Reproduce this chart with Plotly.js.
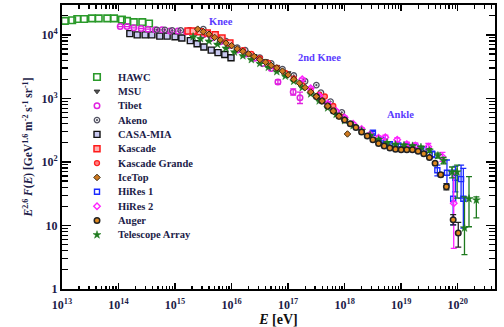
<!DOCTYPE html>
<html><head><meta charset="utf-8">
<script src="https://cdn.plot.ly/plotly-3.0.1.min.js"></script>
<style>html,body{margin:0;padding:0;background:#fff}#chart{width:504px;height:327px}</style>
</head><body><div id="chart"></div>
<script>
// Values: log10(E / eV) and log10(E^2.6 F(E) / GeV^1.6 m^-2 s^-1 sr^-1)
const seriesNames = ['HAWC','MSU','Tibet','Akeno','CASA-MIA','Kascade','Kascade Grande','IceTop','HiRes 1','HiRes 2','Auger','Telescope Array'];

const hawcLogE = [13.05,13.18,13.27,13.39,13.53,13.65,13.80,13.92,14.06,14.15,14.27,14.42,14.54];
const hawcLogF = [4.22,4.23,4.25,4.25,4.26,4.26,4.26,4.26,4.24,4.22,4.20,4.20,4.18];

const msuLogE = [15.6,15.8,16.0,16.2,16.4,16.6,16.8,17.0];
const msuLogF = [3.98,3.90,3.82,3.74,3.67,3.59,3.50,3.40];

const tibetLogE = [14.03,14.15,14.27,14.40,14.52,14.65,14.77,14.91,15.05,15.20,15.35,15.50,15.65,15.80,15.95,16.10,16.25,16.40,16.55,16.70,16.82,17.09,17.21];
const tibetLogF = [4.13,4.13,4.11,4.10,4.09,4.08,4.08,4.06,4.06,4.05,4.04,4.00,3.95,3.89,3.83,3.76,3.70,3.63,3.55,3.47,3.26,3.10,3.01];
const tibetErrHi = [0,0,0,0,0,0,0,0,0,0,0,0,0,0,0,0,0,0,0,0,0.03,0.05,0.09];
const tibetErrLo = [0,0,0,0,0,0,0,0,0,0,0,0,0,0,0,0,0,0,0,0,0.03,0.05,0.09];

const akenoLogE = [14.68,14.82,14.95,15.10,15.25,15.50,15.70,15.90,16.10,16.24,16.50,16.70,16.90,17.10,17.30,17.50,17.58,17.75,17.95];
const akenoLogF = [4.08,4.08,4.07,4.07,4.07,4.09,4.00,3.90,3.80,3.76,3.64,3.55,3.46,3.36,3.27,3.21,3.09,2.95,2.78];

const casaLogE = [14.20,14.33,14.47,14.59,14.73,14.86,15.00,15.12,15.27,15.39,15.51,15.64,15.76,15.88,15.99];
const casaLogF = [4.02,4.00,4.00,4.00,3.98,3.98,3.97,3.95,3.91,3.86,3.81,3.76,3.72,3.69,3.64];

const kascadeLogE = [15.23,15.32,15.44,15.57,15.71,15.83,15.97];
const kascadeLogF = [4.06,4.06,4.05,4.03,4.00,3.95,3.87];

const kgLogE = [16.20,16.35,16.50,16.65,16.80,16.95,17.10,17.25,17.40,17.55,17.65,17.80,17.92];
const kgLogF = [3.76,3.70,3.63,3.56,3.48,3.40,3.31,3.21,3.12,3.06,3.03,2.88,2.72];

const icetopLogE = [15.4,15.5,15.6,15.7,15.8,15.9,16.0,16.1,16.2,16.3,16.4,16.5,16.6,16.7,16.8,16.9,17.0,17.1,17.2,17.3,17.4,17.5,17.6,17.7,17.8,17.9,18.05];
const icetopLogF = [4.09,4.05,4.01,3.96,3.92,3.87,3.83,3.78,3.74,3.70,3.66,3.61,3.57,3.52,3.48,3.43,3.37,3.30,3.24,3.17,3.10,3.03,2.96,2.88,2.80,2.72,2.44];

const hires1LogE = [18.50,18.65,18.80,18.95,19.10,19.25,19.40,19.55,19.64,19.81,19.92,19.96,20.06,20.10];
const hires1LogF = [2.46,2.35,2.28,2.26,2.25,2.24,2.20,2.12,1.87,1.83,1.42,1.75,1.73,1.42];
const hires1ErrHi = [0.02,0.02,0.02,0.02,0.03,0.03,0.04,0.05,0.08,0.20,0.45,0.18,0.22,0.48];
const hires1ErrLo = [0.02,0.02,0.02,0.02,0.03,0.03,0.04,0.05,0.09,0.19,0.41,0.22,0.30,0.46];

const hires2LogE = [17.25,17.40,17.55,17.70,17.85,18.00,18.15,18.30,18.45,18.60,18.72,18.93,19.10,19.25,19.48,19.73,19.93];
const hires2LogF = [3.30,3.16,3.04,2.92,2.80,2.70,2.60,2.52,2.43,2.38,2.39,2.35,2.28,2.26,2.24,2.08,1.35];
const hires2ErrHi = [0.02,0.02,0.02,0.02,0.02,0.02,0.02,0.02,0.02,0.03,0.03,0.03,0.03,0.04,0.05,0.07,0.47];
const hires2ErrLo = [0.02,0.02,0.02,0.02,0.02,0.02,0.02,0.02,0.02,0.03,0.03,0.03,0.03,0.04,0.05,0.07,0.71];

const augerLogE = [17.5,17.6,17.7,17.8,17.9,18.0,18.1,18.2,18.3,18.4,18.5,18.6,18.7,18.8,18.9,19.0,19.1,19.2,19.3,19.4,19.5,19.6,19.7,19.8,19.92,20.01];
const augerLogF = [3.03,2.96,2.88,2.80,2.72,2.66,2.60,2.54,2.47,2.41,2.35,2.29,2.25,2.22,2.20,2.19,2.19,2.19,2.17,2.13,2.07,1.98,1.80,1.61,1.09,0.88];
const augerErrHi = [0,0,0,0,0,0,0,0,0,0,0,0,0,0,0,0,0,0,0,0,0.01,0.02,0.03,0.05,0.08,0.17];
const augerErrLo = [0,0,0,0,0,0,0,0,0,0,0,0,0,0,0,0,0,0,0,0,0.01,0.02,0.03,0.05,0.08,0.22];

const taLogE = [15.32,15.45,15.60,15.75,15.90,16.05,16.20,16.35,16.50,16.65,16.80,16.95,17.10,17.25,17.40,17.55,17.70,17.85,18.00,18.15,18.30,18.45,18.60,18.75,18.90,19.05,19.20,19.35,19.50,19.65,19.75,19.90,19.99,20.12,20.20,20.33];
const taLogF = [3.97,3.94,3.90,3.85,3.79,3.73,3.67,3.61,3.55,3.49,3.42,3.35,3.27,3.17,3.07,2.96,2.85,2.75,2.65,2.57,2.49,2.42,2.35,2.30,2.27,2.26,2.25,2.23,2.18,2.10,2.02,1.84,1.84,0.96,1.42,1.40];
const taErrHi = [0,0,0,0,0,0,0,0,0,0,0,0,0,0,0,0,0,0,0,0,0,0,0.02,0.02,0.02,0.02,0.02,0.02,0.03,0.04,0.05,0.08,0.11,0.49,0.35,0.05];
const taErrLo = [0,0,0,0,0,0,0,0,0,0,0,0,0,0,0,0,0,0,0,0,0,0,0.02,0.02,0.02,0.02,0.02,0.02,0.03,0.04,0.05,0.09,0.41,0.42,0.44,0.28];

const xTickVals = [1e13,1e14,1e15,1e16,1e17,1e18,1e19,1e20];
const xTickText = ['10<sup>13</sup>','10<sup>14</sup>','10<sup>15</sup>','10<sup>16</sup>','10<sup>17</sup>','10<sup>18</sup>','10<sup>19</sup>','10<sup>20</sup>'];
const yTickVals = [1,10,100,1000,10000];
const yTickText = ['1','10','10<sup>2</sup>','10<sup>3</sup>','10<sup>4</sup>'];

// ---------- styles ----------
const styles = {
  'HAWC': {symbol:'square-open', size:6.5, color:'#2a9a2a', line:{color:'#2a9a2a', width:1.6}},
  'MSU': {symbol:'triangle-down', size:5, color:'#555555', line:{color:'#333333', width:1}},
  'Tibet': {symbol:'circle-open', size:5.5, color:'#e020e0', line:{color:'#e020e0', width:1.5}},
  'Akeno': {symbol:'circle-open-dot', size:5.5, color:'#505060', line:{color:'#505060', width:1.3}},
  'CASA-MIA': {symbol:'square', size:6, color:'#c8c8f0', line:{color:'#111111', width:1.4}},
  'Kascade': {symbol:'square', size:6, color:'#ffb0b0', line:{color:'#ff1a1a', width:1.5}},
  'Kascade Grande': {symbol:'circle', size:5, color:'#ff8080', line:{color:'#ff2020', width:1.3}},
  'IceTop': {symbol:'diamond', size:5, color:'#d07a20', line:{color:'#3a2a10', width:1}},
  'HiRes 1': {symbol:'square-open', size:5, color:'#1a2aff', line:{color:'#1a2aff', width:1.4}},
  'HiRes 2': {symbol:'diamond-open', size:5, color:'#ff20ff', line:{color:'#ff20ff', width:1.4}},
  'Auger': {symbol:'circle', size:5.5, color:'#e08a20', line:{color:'#222222', width:1.5}},
  'Telescope Array': {symbol:'star', size:6, color:'#1e7a1e', line:{color:'#1e7a1e', width:0.5}}
};
const errColors = {'Tibet':'#e020e0','HiRes 1':'#1a2aff','HiRes 2':'#ff20ff','Auger':'#222222','Telescope Array':'#1e7a1e'};

const P = v => Math.pow(10, v);
function makeTrace(name, logE, logF, errHi, errLo) {
  const t = {
    type:'scatter', mode:'markers', name:name, showlegend:false,
    x: logE.map(P), y: logF.map(P),
    marker: styles[name], cliponaxis:true
  };
  if (errHi) {
    t.error_y = {
      type:'data', symmetric:false, visible:true,
      array: logF.map((v,i)=> P(v+errHi[i]) - P(v)),
      arrayminus: logF.map((v,i)=> P(v) - P(v-errLo[i])),
      color: errColors[name], thickness:1.3, width:3
    };
  }
  return t;
}

const traces = [
  makeTrace('MSU', msuLogE, msuLogF),
  makeTrace('HAWC', hawcLogE, hawcLogF),
  makeTrace('CASA-MIA', casaLogE, casaLogF),
  makeTrace('Tibet', tibetLogE, tibetLogF, tibetErrHi, tibetErrLo),
  makeTrace('Akeno', akenoLogE, akenoLogF),
  makeTrace('Kascade', kascadeLogE, kascadeLogF),
  makeTrace('Kascade Grande', kgLogE, kgLogF),
  makeTrace('HiRes 1', hires1LogE, hires1LogF, hires1ErrHi, hires1ErrLo),
  makeTrace('HiRes 2', hires2LogE, hires2LogF, hires2ErrHi, hires2ErrLo),
  makeTrace('Telescope Array', taLogE, taLogF, taErrHi, taErrLo),
  makeTrace('Auger', augerLogE, augerLogF, augerErrHi, augerErrLo),
  makeTrace('IceTop', icetopLogE, icetopLogF)
];

// ---------- hand-placed legend (compact spacing) ----------
const plotL = 62, plotR = 495, plotT = 5, plotB = 289;
const pw = plotR - plotL, ph = plotB - plotT;
const legTop = 77, legStep = 14.35, legMarkX = 97, legTextX = 116;
const annotations = [];
seriesNames.forEach((nm, i) => {
  const py = legTop + i*legStep;
  const yp = (plotB - py)/ph;
  traces.push({type:'scatter', mode:'markers', xaxis:'x2', yaxis:'y2', showlegend:false,
    x:[(legMarkX-plotL)/pw], y:[yp], marker: styles[nm], hoverinfo:'skip'});
  annotations.push({xref:'paper', yref:'paper', x:(legTextX-plotL)/pw, y:yp, xanchor:'left', yanchor:'middle',
    text:nm, showarrow:false, font:{family:'Liberation Serif, Times New Roman, serif', size:10.5, weight:'bold', color:'#1c1c48'}});
});

const labelFont = {family:'Liberation Serif, Times New Roman, serif', size:10.5, weight:'bold', color:'#5b3cff'};
[['Knee',221,21],['2nd Knee',319,58],['Ankle',400,114]].forEach(([txt,px,py]) => {
  annotations.push({xref:'paper', yref:'paper', x:(px-plotL)/pw, y:(plotB-py)/ph, xanchor:'center', yanchor:'middle',
    text:txt, showarrow:false, font:labelFont});
});

const xMinor = [], yMinor = [];
for (let d = 13; d <= 20; d++) for (let k = 2; k <= 9; k++) { if (Math.log10(k*P(d)) < 20.66) xMinor.push(k*P(d)); }
for (let d = 0; d <= 4; d++) for (let k = 2; k <= 9; k++) { if (Math.log10(k*P(d)) < 4.47) yMinor.push(k*P(d)); }

const tickFont = {family:'Liberation Serif, Times New Roman, serif', size:12, weight:'bold', color:'#1c1c48'};
const layout = {
  width:504, height:327,
  margin:{l:plotL, r:504-plotR, t:plotT, b:327-plotB, pad:0},
  paper_bgcolor:'#ffffff', plot_bgcolor:'#ffffff',
  showlegend:false,
  xaxis:{type:'log', range:[13, 20.66], showgrid:false, zeroline:false,
    showline:true, linecolor:'#000', linewidth:2, mirror:'ticks',
    ticks:'inside', ticklen:6, tickwidth:1.5, tickcolor:'#000', ticklabelstandoff:4,
    tickmode:'array', tickvals:xTickVals, ticktext:xTickText, tickfont:tickFont,
    minor:{tickmode:'array', tickvals:xMinor, ticks:'inside', ticklen:3.5, tickwidth:1.2, tickcolor:'#000', showgrid:false},
    title:{text:'<i>E</i> [eV]', font:{family:'Liberation Serif, Times New Roman, serif', size:14, weight:'bold', color:'#111'}, standoff:3}
  },
  yaxis:{type:'log', range:[0, 4.47], showgrid:false, zeroline:false,
    showline:true, linecolor:'#000', linewidth:2, mirror:'ticks',
    ticks:'inside', ticklen:9, tickwidth:1.5, tickcolor:'#000',
    tickmode:'array', tickvals:yTickVals, ticktext:yTickText, tickfont:tickFont,
    minor:{tickmode:'array', tickvals:yMinor, ticks:'inside', ticklen:6, tickwidth:1.2, tickcolor:'#000', showgrid:false},
    title:{text:'<i>E</i><sup>2.6</sup> <i>F</i>(<i>E</i>) [GeV<sup>1.6</sup> m<sup>-2</sup> s<sup>-1</sup> sr<sup>-1</sup>]', font:{family:'Liberation Serif, Times New Roman, serif', size:11.5, weight:'bold', color:'#1c1c48'}, standoff:6}
  },
  xaxis2:{overlaying:'x', anchor:'y2', range:[0,1], visible:false, fixedrange:true},
  yaxis2:{overlaying:'y', anchor:'x2', range:[0,1], visible:false, fixedrange:true},
  annotations: annotations
};

Plotly.newPlot('chart', traces, layout, {displayModeBar:false, staticPlot:true});
</script>
</body></html>
